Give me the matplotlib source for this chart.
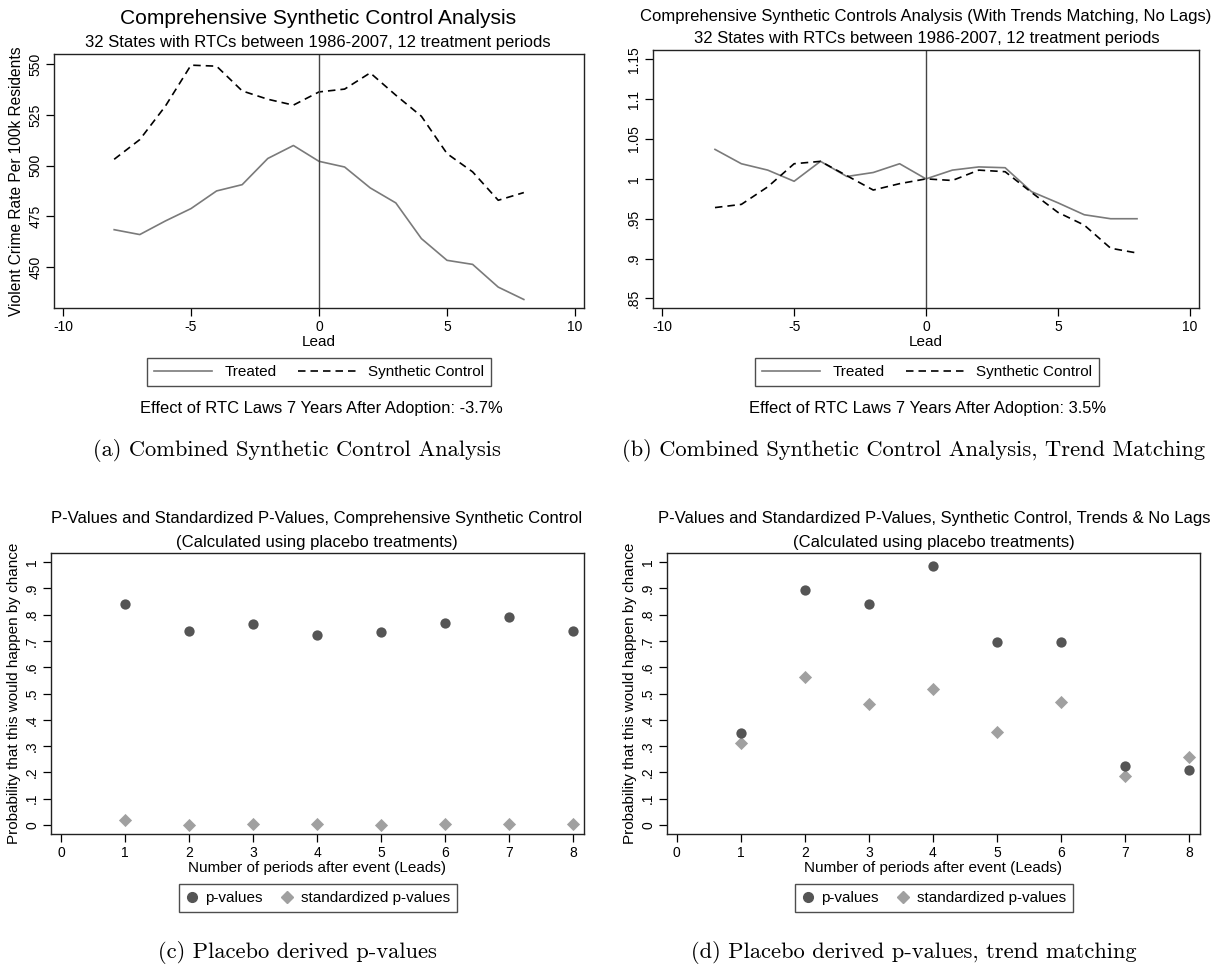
import matplotlib
matplotlib.use('Agg')
import matplotlib.pyplot as plt
from matplotlib.lines import Line2D

W, H = 1214, 967

# panel (a): levels
leads = list(range(-8, 9))
treated_a = [468.4, 466.0, 472.7, 478.8, 487.5, 490.6, 503.5, 509.9, 502.1,
             499.3, 489.0, 481.6, 464.0, 453.3, 451.3, 440.1, 434.0]
synth_a = [503.1, 512.8, 529.3, 549.5, 549.0, 536.8, 532.7, 529.8, 536.3,
           537.7, 545.7, 534.7, 524.3, 505.9, 496.9, 482.9, 486.7]

# panel (b): trend matching, normalised
treated_b = [1.037, 1.019, 1.011, 0.997, 1.022, 1.003, 1.008, 1.019, 1.000,
             1.011, 1.015, 1.014, 0.984, 0.970, 0.955, 0.950, 0.950]
synth_b = [0.964, 0.968, 0.990, 1.019, 1.022, 1.004, 0.986, 0.994, 1.000,
           0.998, 1.011, 1.009, 0.983, 0.958, 0.942, 0.913, 0.907]

# panels (c) and (d): placebo p-values
periods = [1, 2, 3, 4, 5, 6, 7, 8]
pval_c = [0.839, 0.736, 0.763, 0.721, 0.733, 0.769, 0.789, 0.736]
std_pval_c = [0.018, 0.0, 0.005, 0.003, 0.0, 0.003, 0.005, 0.003]
pval_d = [0.349, 0.893, 0.840, 0.983, 0.694, 0.694, 0.226, 0.209]
std_pval_d = [0.310, 0.561, 0.461, 0.516, 0.355, 0.467, 0.185, 0.259]

effect_a = 'Effect of RTC Laws 7 Years After Adoption: -3.7%'
effect_b = 'Effect of RTC Laws 7 Years After Adoption: 3.5%'

SANS = 'Liberation Sans'
SERIF = 'cmr10'
TREATED_COLOR = '#7a7a7a'
PV_COLOR = '#555555'
STD_COLOR = '#a0a0a0'
TITLE_SIZE = 12
CAPTION_SIZE = 16.2

plt.rcParams['font.family'] = [SANS, 'DejaVu Sans']

fig = plt.figure(figsize=(W / 100, H / 100), dpi=100)
fig.patch.set_facecolor('white')


def px_axes(left, top, right, bottom):
	return fig.add_axes([left / W, 1 - bottom / H, (right - left) / W, (bottom - top) / H])


def fig_text(x, y, s, **kw):
	kw.setdefault('ha', 'center')
	kw.setdefault('va', 'center')
	fig.text(x / W, 1 - y / H, s, **kw)


def stata_fmt(v):
	s = f'{v:g}'
	if s.startswith('0.'):
		s = s[1:]
	return s


def style_axes(ax, xticks, yticks, xlim, ylim):
	ax.set_xlim(*xlim)
	ax.set_ylim(*ylim)
	ax.set_xticks(xticks)
	ax.set_xticklabels([stata_fmt(v) for v in xticks])
	ax.set_yticks(yticks)
	ax.set_yticklabels([stata_fmt(v) for v in yticks], rotation=90, va='center')
	ax.tick_params(direction='out', length=5.5, width=0.9, labelsize=10, pad=3, colors='black')
	for sp in ax.spines.values():
		sp.set_linewidth(1.0)
		sp.set_color('#222222')


def line_legend(cx, cy):
	handles = [
		Line2D([], [], color=TREATED_COLOR, lw=1.2, label='Treated'),
		Line2D([], [], color='black', lw=1.2, ls=(0, (4.5, 3)), label='Synthetic Control'),
	]
	fig.legend(handles=handles, loc='center', bbox_to_anchor=(cx / W, 1 - cy / H), ncol=2,
	           frameon=True, fancybox=False, edgecolor='#222222', fontsize=11,
	           handlelength=3.8, columnspacing=1.4, borderpad=0.45, handletextpad=0.8)


def point_legend(cx, cy):
	handles = [
		Line2D([], [], color=PV_COLOR, marker='o', ls='none', markersize=7, label='p-values'),
		Line2D([], [], color=STD_COLOR, marker='D', ls='none', markersize=6.5, label='standardized p-values'),
	]
	fig.legend(handles=handles, loc='center', bbox_to_anchor=(cx / W, 1 - cy / H), ncol=2,
	           frameon=True, fancybox=False, edgecolor='#222222', fontsize=11,
	           handlelength=0.8, columnspacing=1.2, borderpad=0.45, handletextpad=0.5)


# (a)
ax = px_axes(54, 54, 584, 308)
ax.plot(leads, treated_a, color=TREATED_COLOR, lw=1.2)
ax.plot(leads, synth_a, color='black', lw=1.2, ls=(0, (4.5, 3)))
ax.axvline(0, color='#444444', lw=1.0)
style_axes(ax, [-10, -5, 0, 5, 10], [450, 475, 500, 525, 550], (-10.35, 10.35), (429.8, 555))
ax.set_ylabel('Violent Crime Rate Per 100k Residents', fontsize=11.2, labelpad=3)
ax.set_xlabel('Lead', fontsize=11, labelpad=1)
fig_text(318, 18, 'Comprehensive Synthetic Control Analysis', fontsize=15.1)
fig_text(318, 42, '32 States with RTCs between 1986-2007, 12 treatment periods', fontsize=TITLE_SIZE)
line_legend(319, 372)
fig_text(321, 408, effect_a, fontsize=11.9)
fig_text(297, 451, '(a) Combined Synthetic Control Analysis', fontsize=CAPTION_SIZE, family=SERIF)

# (b)
ax = px_axes(653, 50, 1199, 308)
ax.plot(leads, treated_b, color=TREATED_COLOR, lw=1.2)
ax.plot(leads, synth_b, color='black', lw=1.2, ls=(0, (4.5, 3)))
ax.axvline(0, color='#444444', lw=1.0)
style_axes(ax, [-10, -5, 0, 5, 10], [0.85, 0.9, 0.95, 1.0, 1.05, 1.1, 1.15], (-10.35, 10.35), (0.838, 1.1617))
ax.set_xlabel('Lead', fontsize=11, labelpad=1)
fig_text(926, 16, 'Comprehensive Synthetic Controls Analysis (With Trends Matching, No Lags)', fontsize=TITLE_SIZE)
fig_text(927, 38, '32 States with RTCs between 1986-2007, 12 treatment periods', fontsize=TITLE_SIZE)
line_legend(927, 372)
fig_text(928, 408, effect_b, fontsize=11.9)
fig_text(914, 451, '(b) Combined Synthetic Control Analysis, Trend Matching', fontsize=CAPTION_SIZE, family=SERIF)

# (c)
pticks = [round(0.1 * i, 1) for i in range(11)]
ax = px_axes(51, 553, 584, 834)
ax.scatter(periods, std_pval_c, marker='D', s=45, color=STD_COLOR, zorder=3, linewidths=0)
ax.scatter(periods, pval_c, marker='o', s=55, color=PV_COLOR, zorder=3, linewidths=0)
style_axes(ax, list(range(9)), pticks, (-0.16, 8.17), (-0.034, 1.034))
ax.set_ylabel('Probability that this would happen by chance', fontsize=11, labelpad=3)
ax.set_xlabel('Number of periods after event (Leads)', fontsize=11, labelpad=1)
fig_text(317, 519, 'P-Values and Standardized P-Values, Comprehensive Synthetic Control', fontsize=TITLE_SIZE)
fig_text(317, 542, '(Calculated using placebo treatments)', fontsize=TITLE_SIZE)
point_legend(318, 898)
fig_text(297, 952, '(c) Placebo derived p-values', fontsize=CAPTION_SIZE, family=SERIF)

# (d)
ax = px_axes(667, 553, 1200, 834)
ax.scatter(periods, std_pval_d, marker='D', s=45, color=STD_COLOR, zorder=3, linewidths=0)
ax.scatter(periods, pval_d, marker='o', s=55, color=PV_COLOR, zorder=3, linewidths=0)
style_axes(ax, list(range(9)), pticks, (-0.15, 8.17), (-0.034, 1.034))
ax.set_ylabel('Probability that this would happen by chance', fontsize=11, labelpad=3)
ax.set_xlabel('Number of periods after event (Leads)', fontsize=11, labelpad=1)
fig_text(934, 519, 'P-Values and Standardized P-Values, Synthetic Control, Trends & No Lags', fontsize=TITLE_SIZE)
fig_text(934, 542, '(Calculated using placebo treatments)', fontsize=TITLE_SIZE)
point_legend(934, 898)
fig_text(914, 952, '(d) Placebo derived p-values, trend matching', fontsize=CAPTION_SIZE, family=SERIF)

fig.savefig('out.png', dpi=100, facecolor='white')
